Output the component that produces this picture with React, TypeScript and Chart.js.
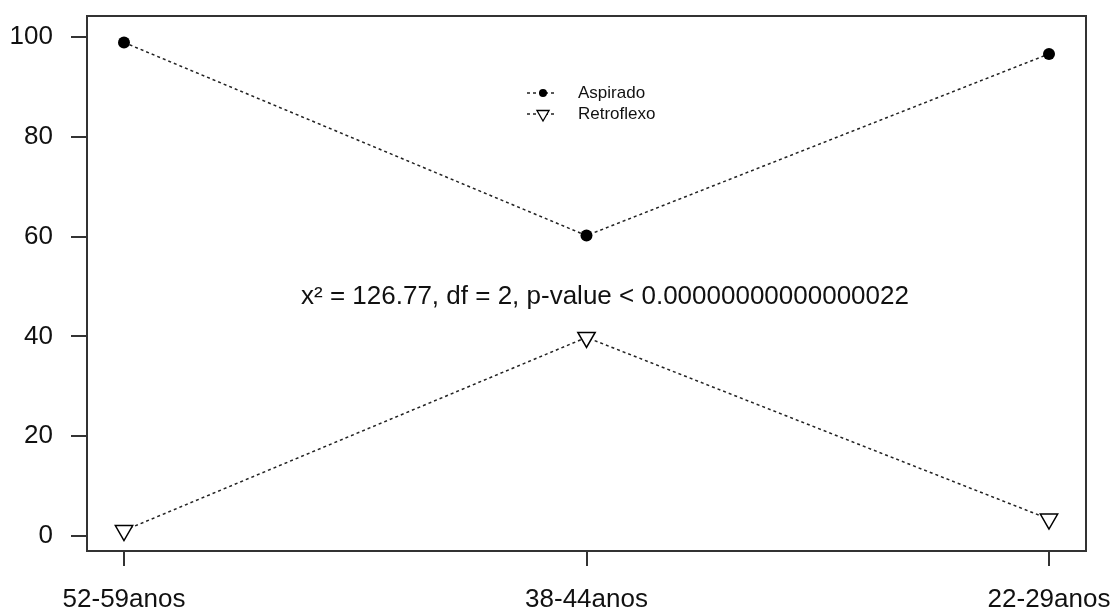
import { useEffect, useRef } from 'react';
import { Chart, registerables } from 'chart.js';

Chart.register(...registerables);

// Age groups on the x axis and the share (%) of each variant per group
const categories = ['52-59anos', '38-44anos', '22-29anos'];
const aspirado = [98.9, 60.2, 96.6];
const retroflexo = [1.1, 39.8, 3.4];
const yTicks = [0, 20, 40, 60, 80, 100];
const seriesNames = ['Aspirado', 'Retroflexo'];
const testNote = 'x² = 126.77, df = 2, p-value < 0.00000000000000022';
const notePosition = { x: 2.04, y: 48 };

const FONT = "'Liberation Sans', Arial, sans-serif";
const INK = '#222';

const toPoints = (vals: number[]) => vals.map((v, i) => ({ x: i + 1, y: v }));

// Labels are allowed to spill past the plot edges, so the scales claim no extra room
const noScalePadding = (s: any) => {
  s.paddingTop = 0;
  s.paddingBottom = 0;
  s.paddingLeft = 0;
  s.paddingRight = 0;
};

// Box around the plot region, the chi-square note and an R-style legend
const decorations = {
  id: 'decorations',
  afterDraw(chart: any) {
    const { ctx, chartArea, scales } = chart;
    ctx.save();

    ctx.strokeStyle = '#333';
    ctx.lineWidth = 2;
    ctx.setLineDash([]);
    ctx.strokeRect(chartArea.left, chartArea.top, chartArea.right - chartArea.left, chartArea.bottom - chartArea.top);

    ctx.fillStyle = '#111';
    ctx.font = `26px ${FONT}`;
    ctx.textAlign = 'center';
    ctx.textBaseline = 'middle';
    ctx.fillText(testNote, scales.x.getPixelForValue(notePosition.x), scales.y.getPixelForValue(notePosition.y));

    // legend rows
    const lx = chartArea.left + 440;
    const ly = chartArea.top + 77;
    const rowGap = 21;
    chart.data.datasets.forEach((ds: any, i: number) => {
      const y = ly + i * rowGap;
      ctx.strokeStyle = INK;
      ctx.lineWidth = 1.5;
      ctx.setLineDash([3, 3]);
      ctx.beginPath();
      ctx.moveTo(lx, y);
      ctx.lineTo(lx + 30, y);
      ctx.stroke();
      ctx.setLineDash([]);
      const cx = lx + 16;
      if (ds.pointStyle === 'circle') {
        ctx.fillStyle = '#000';
        ctx.beginPath();
        ctx.arc(cx, y, 4, 0, Math.PI * 2);
        ctx.fill();
      } else {
        const r = 7;
        ctx.fillStyle = '#fff';
        ctx.strokeStyle = '#000';
        ctx.lineWidth = 1.3;
        ctx.beginPath();
        ctx.moveTo(cx, y + r);
        ctx.lineTo(cx + r * Math.sin(Math.PI / 3), y - r / 2);
        ctx.lineTo(cx - r * Math.sin(Math.PI / 3), y - r / 2);
        ctx.closePath();
        ctx.fill();
        ctx.stroke();
      }
      ctx.fillStyle = '#111';
      ctx.font = `17px ${FONT}`;
      ctx.textAlign = 'left';
      ctx.textBaseline = 'middle';
      ctx.fillText(ds.label, lx + 51, y);
    });

    ctx.restore();
  },
};

export default function App() {
  const canvasRef = useRef<HTMLCanvasElement | null>(null);

  useEffect(() => {
    if (!canvasRef.current) return;
    const chart = new Chart(canvasRef.current, {
      type: 'line',
      data: {
        datasets: [
          {
            label: seriesNames[0],
            data: toPoints(aspirado),
            borderColor: INK,
            borderWidth: 1.5,
            borderDash: [3, 3],
            fill: false,
            tension: 0,
            pointStyle: 'circle',
            pointRadius: 6,
            pointBackgroundColor: '#000',
            pointBorderColor: '#000',
            pointBorderWidth: 0,
          },
          {
            label: seriesNames[1],
            data: toPoints(retroflexo),
            borderColor: INK,
            borderWidth: 1.5,
            borderDash: [3, 3],
            fill: false,
            tension: 0,
            pointStyle: 'triangle',
            pointRotation: 180,
            pointRadius: 10,
            pointBackgroundColor: '#fff',
            pointBorderColor: '#000',
            pointBorderWidth: 1.5,
          },
        ],
      },
      options: {
        responsive: false,
        animation: false,
        devicePixelRatio: 1,
        layout: { padding: { left: 0, top: 16, right: 27, bottom: 0 } },
        plugins: { legend: { display: false }, tooltip: { enabled: false } },
        events: [],
        scales: {
          x: {
            type: 'linear',
            min: 0.92,
            max: 3.08,
            afterBuildTicks: (s: any) => {
              s.ticks = categories.map((_, i) => ({ value: i + 1 }));
            },
            afterFit: (s: any) => {
              s.height = 58;
              noScalePadding(s);
            },
            ticks: {
              callback: (v: any) => categories[Number(v) - 1] ?? '',
              font: { family: FONT, size: 26 },
              color: '#111',
              padding: 18,
              autoSkip: false,
              maxRotation: 0,
            },
            grid: { drawOnChartArea: false, tickLength: 15, color: '#333', lineWidth: 2 },
            border: { display: false },
          },
          y: {
            type: 'linear',
            min: -3,
            max: 104.2,
            afterBuildTicks: (s: any) => {
              s.ticks = yTicks.map((v) => ({ value: v }));
            },
            afterFit: (s: any) => {
              s.width = 87;
              noScalePadding(s);
            },
            ticks: {
              font: { family: FONT, size: 26 },
              color: '#111',
              padding: 18,
            },
            grid: { drawOnChartArea: false, tickLength: 16, color: '#333', lineWidth: 2 },
            border: { display: false },
          },
        },
      },
      plugins: [decorations],
    });
    return () => chart.destroy();
  }, []);

  return (
    <div style={{ position: 'fixed', left: 0, top: 0, width: 1113, height: 609, background: '#fff' }}>
      <canvas ref={canvasRef} width={1113} height={609} />
    </div>
  );
}
